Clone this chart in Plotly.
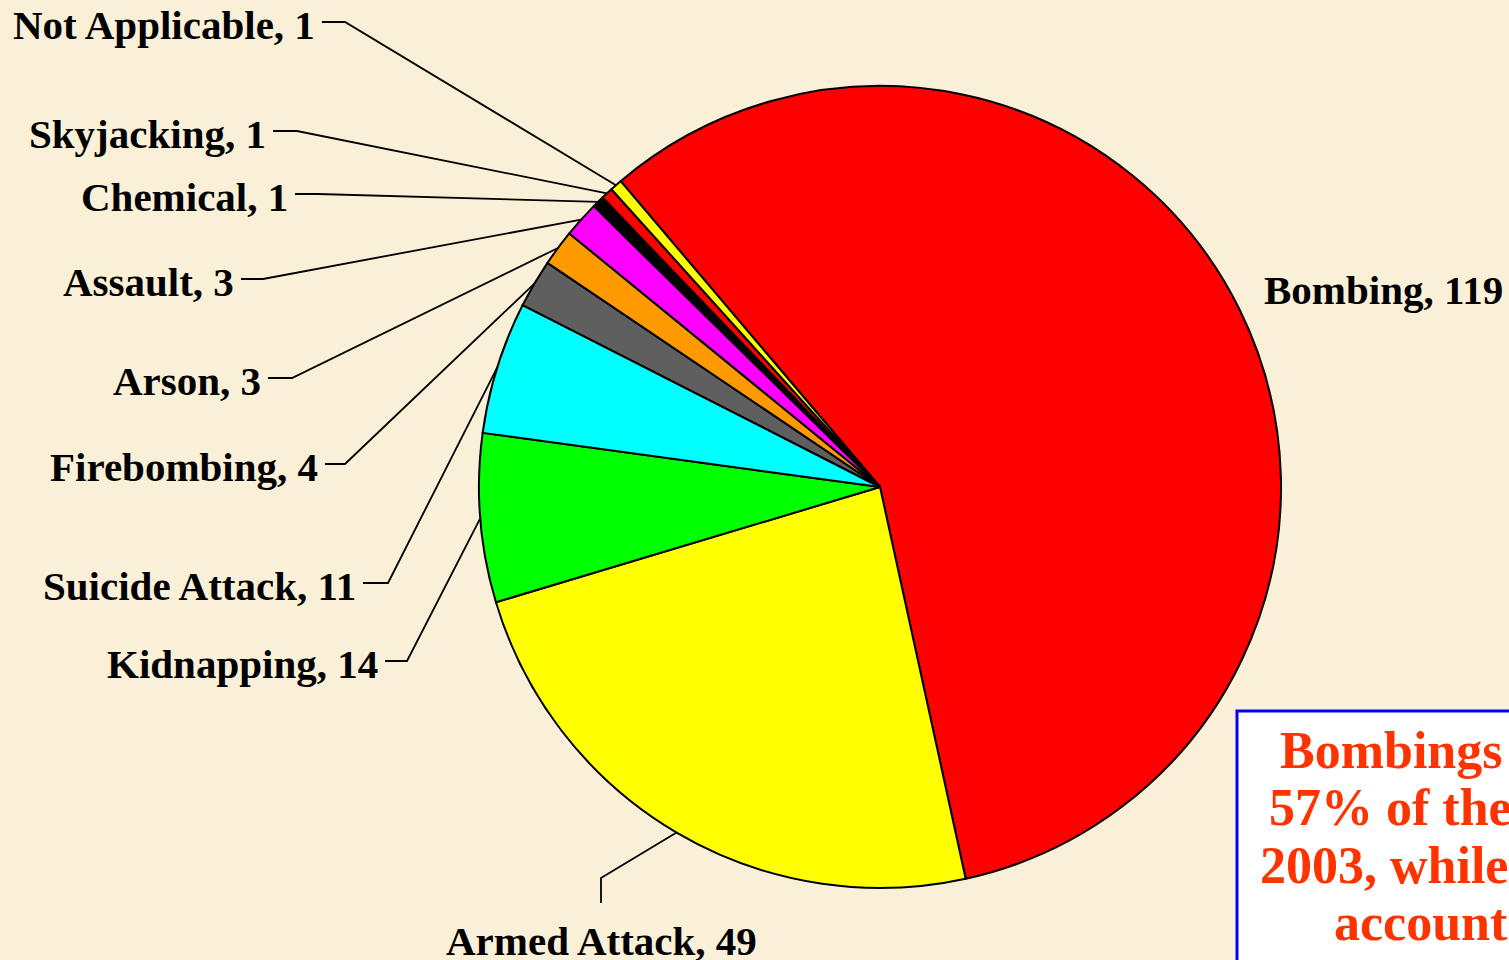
import math
import plotly.graph_objects as go

# ---- data ----
categories = ["Bombing", "Armed Attack", "Kidnapping", "Suicide Attack", "Firebombing",
              "Arson", "Assault", "Chemical", "Skyjacking", "Not Applicable"]
counts = [119, 49, 14, 11, 4, 3, 3, 1, 1, 1]
colors = ["#FF0000", "#FFFF00", "#00FF00", "#00FFFF", "#5F5F5F",
          "#FF9900", "#FF00FF", "#000000", "#FF0000", "#FFFF00"]

box_lines = ["Bombings accounted for", "57% of the incidents in",
             "2003, while armed attacks", "accounted for 24%"]

# ---- layout geometry (pixels) ----
W, H = 1509, 960
CX, CY, R = 880, 487, 401
ROT = -40.3  # start angle of first slice (deg, clockwise from 12 o'clock)
FONT = "Liberation Serif, Times New Roman, serif"
BG = "#FAF0D8"
LABEL_SIZE = 41

def px(x):
    return x / W

def py(y):
    return 1 - y / H

# label placement: name -> (kind, text anchor x, line y, elbow x)
label_pos = {
    "Not Applicable": ("left", 314, 22, 345),
    "Skyjacking": ("left", 265, 131, 297),
    "Chemical": ("left", 287, 194, 318),
    "Assault": ("left", 233, 279, 263),
    "Arson": ("left", 260, 378, 292),
    "Firebombing": ("left", 317, 464, 345),
    "Suicide Attack": ("left", 355, 583, 388),
    "Kidnapping": ("left", 377, 661, 407),
    "Armed Attack": ("bottom", 601, 878, 903),
    "Bombing": ("right", 1262, 290, None),
}

fig = go.Figure()
fig.add_trace(go.Pie(
    labels=categories, values=counts, sort=False, direction="clockwise",
    rotation=ROT, textinfo="none", hoverinfo="label+value",
    marker=dict(colors=colors, line=dict(color="#000000", width=2)),
    domain=dict(x=[px(CX - R), px(CX + R)], y=[py(CY + R), py(CY - R)]),
    showlegend=False,
))

total = sum(counts)
shapes = []
annotations = []
cum = 0.0
for name, v in zip(categories, counts):
    a0 = ROT + cum / total * 360
    cum += v
    a1 = ROT + cum / total * 360
    mid = math.radians((a0 + a1) / 2)
    ex = CX + R * math.sin(mid)
    ey = CY - R * math.cos(mid)
    kind, tx, ty, elb = label_pos[name]
    text = f"{name}, {v}"
    if kind == "left":
        path = (f"M {px(ex)} {py(ey)} L {px(elb)} {py(ty)} L {px(tx + 8)} {py(ty)}")
        shapes.append(dict(type="path", path=path, xref="paper", yref="paper",
                           line=dict(color="black", width=1.8)))
        annotations.append(dict(x=px(tx + 3), y=py(ty + 3), xref="paper", yref="paper",
                                text=f"<b>{text}</b>", showarrow=False,
                                xanchor="right", yanchor="middle",
                                font=dict(family=FONT, size=LABEL_SIZE, color="black")))
    elif kind == "bottom":
        path = (f"M {px(ex)} {py(ey)} L {px(tx)} {py(ty)} L {px(tx)} {py(elb)}")
        shapes.append(dict(type="path", path=path, xref="paper", yref="paper",
                           line=dict(color="black", width=1.8)))
        annotations.append(dict(x=px(tx), y=py(941), xref="paper", yref="paper",
                                text=f"<b>{text}</b>", showarrow=False,
                                xanchor="center", yanchor="middle",
                                font=dict(family=FONT, size=LABEL_SIZE, color="black")))
    else:
        annotations.append(dict(x=px(tx), y=py(ty), xref="paper", yref="paper",
                                text=f"<b>{text}</b>", showarrow=False,
                                xanchor="left", yanchor="middle",
                                font=dict(family=FONT, size=LABEL_SIZE, color="black")))

# text box (cut off at the right/bottom edge)
shapes.append(dict(type="rect", xref="paper", yref="paper",
                   x0=px(1237), x1=px(1600), y0=py(1100), y1=py(711),
                   fillcolor="white", line=dict(color="#0000FF", width=3), layer="above"))
box_x = [1278, 1267, 1258, 1332]
box_y = [750, 807, 865, 922]
for t, bx, by in zip(box_lines, box_x, box_y):
    annotations.append(dict(x=px(bx), y=py(by), xref="paper", yref="paper",
                            text=f"<b>{t}</b>", showarrow=False,
                            xanchor="left", yanchor="middle",
                            font=dict(family=FONT, size=52, color="#FF3300")))

fig.update_layout(
    width=W, height=H, autosize=False,
    margin=dict(l=0, r=0, t=0, b=0),
    paper_bgcolor=BG, plot_bgcolor=BG,
    shapes=shapes, annotations=annotations,
)

fig.write_html(
    "out.html",
    config={"displayModeBar": False},
    post_script="document.body.style.margin='0';document.body.style.overflow='hidden';"
                "document.body.style.background='" + BG + "';",
)
